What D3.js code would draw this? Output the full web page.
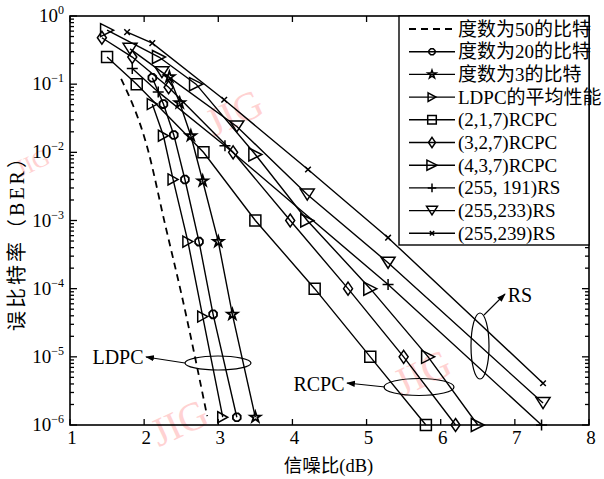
<!DOCTYPE html>
<html lang="zh">
<head>
<meta charset="UTF-8">
<title>BER vs SNR</title>
<script src="https://d3js.org/d3.v7.min.js"></script>
<style>
  body { margin: 0; background: #fff; }
  svg { display: block; }
  text { font-family: "Liberation Serif", "Times New Roman", "Noto Sans CJK SC", serif; fill: #000; }
  .wm { fill: #ff8080; opacity: 0.35; font-size: 40px; }
</style>
</head>
<body>
<svg id="chart" width="604" height="479"></svg>
<script>
// ---- data: [SNR dB, BER] ----
const deg50 = [[1.69, 0.12], [2.05, 0.011], [2.28, 9e-4], [2.51, 7.7e-5], [2.85, 1.35e-6]];
const deg20 = [[2.11, 0.124], [2.26, 0.051], [2.40, 0.018], [2.55, 0.004], [2.74, 4.9e-4], [2.93, 4.2e-5], [3.25, 1.3e-6]];
const deg3 = [[2.34, 0.128], [2.48, 0.053], [2.63, 0.0175], [2.79, 0.0038], [3.0, 4.9e-4], [3.19, 4.2e-5], [3.5, 1.3e-6]];
const ldpcAvg = [[2.11, 0.051], [2.26, 0.0175], [2.39, 0.004], [2.59, 4.9e-4], [2.79, 3.9e-5], [3.06, 1.3e-6]];
const rcpc217 = [[1.5, 0.25], [1.9, 0.1], [2.8, 0.01], [3.5, 1e-3], [4.3, 1e-4], [5.05, 1e-5], [5.8, 1e-6]];
const rcpc327 = [[1.43, 0.48], [1.84, 0.25], [2.33, 0.09], [3.2, 0.01], [3.97, 1e-3], [4.75, 1e-4], [5.5, 1e-5], [6.2, 1e-6]];
const rcpc437 = [[1.5, 0.62], [2.2, 0.25], [2.7, 0.1], [3.5, 0.0093], [4.2, 1e-3], [5.05, 1e-4], [5.83, 1e-5], [6.5, 1e-6]];
const rs191 = [[1.84, 0.17], [2.19, 0.077], [3.09, 0.0125], [5.29, 1.15e-4], [7.36, 1e-6]];
const rs233 = [[1.81, 0.33], [2.24, 0.15], [3.25, 0.024], [4.2, 2.4e-3], [5.29, 2.4e-4], [7.38, 2.1e-6]];
const rs239 = [[1.77, 0.58], [2.11, 0.4], [3.08, 0.059], [4.21, 5.6e-3], [5.29, 5.6e-4], [7.38, 4.1e-6]];

const legendLabels = ["度数为50的比特", "度数为20的比特", "度数为3的比特", "LDPC的平均性能",
  "(2,1,7)RCPC", "(3,2,7)RCPC", "(4,3,7)RCPC", "(255, 191)RS", "(255,233)RS", "(255,239)RS"];
const xTicks = [1, 2, 3, 4, 5, 6, 7, 8];
const yExponents = [0, -1, -2, -3, -4, -5, -6];

const svg = d3.select("#chart");
const L = 70, R = 589, T = 16, B = 425;

const x = d3.scaleLinear().domain([1, 8]).range([L, R]);
const y = d3.scaleLog().domain([1e-6, 1]).range([B, T]);

// watermarks (behind everything)
const wm = svg.append("g");
[[240, 125, 40], [185, 435, 40], [428, 385, 40], [458, 62, 32], [36, 170, 24]].forEach(d => {
  wm.append("text").attr("class", "wm")
    .attr("transform", `translate(${d[0]},${d[1]}) rotate(-25)`)
    .attr("text-anchor", "middle")
    .style("font-size", d[2] + "px")
    .text("JIG");
});

// marker shapes
function markerPath(type, s) {
  s = s || 1;
  switch (type) {
    case "square": { const h = 5.5 * s; return `M${-h},${-h}H${h}V${h}H${-h}Z`; }
    case "diamond": { const w = 4.5 * s, h = 6.5 * s; return `M0,${-h}L${w},0L0,${h}L${-w},0Z`; }
    case "triR": { const w = 6.5 * s, h = 6.5 * s; return `M${-w},${-h}L${w},0L${-w},${h}Z`; }
    case "triRs": { const w = 5 * s, h = 5.5 * s; return `M${-w},${-h}L${w},0L${-w},${h}Z`; }
    case "triD": { const w = 7 * s, h = 5.5 * s; return `M${-w},${-h}H${w}L0,${h}Z`; }
    case "plus": { const h = 5.5 * s; return `M${-h},0H${h}M0,${-h}V${h}`; }
    case "cross": { const h = 2.8 * s; return `M${-h},${-h}L${h},${h}M${-h},${h}L${h},${-h}`; }
    case "oct": {
      const r = 4.2 * s;
      return d3.range(8).map(i => {
        const a = Math.PI / 8 + i * Math.PI / 4;
        return (i ? "L" : "M") + (r * Math.cos(a)).toFixed(2) + "," + (r * Math.sin(a)).toFixed(2);
      }).join("") + "Z";
    }
    case "star": return d3.symbol(d3.symbolStar, 34 * s * s)();
  }
  return "";
}

const series = [
  { data: deg50, marker: null, dash: "7,5" },
  { data: deg20, marker: "oct" },
  { data: deg3, marker: "star" },
  { data: ldpcAvg, marker: "triRs" },
  { data: rcpc217, marker: "square" },
  { data: rcpc327, marker: "diamond" },
  { data: rcpc437, marker: "triR" },
  { data: rs191, marker: "plus" },
  { data: rs233, marker: "triD" },
  { data: rs239, marker: "cross" }
];

const line = d3.line().x(d => x(d[0])).y(d => y(d[1]));
const plot = svg.append("g");

series.forEach(s => {
  plot.append("path")
    .attr("d", s.dash ? line.curve(d3.curveMonotoneX)(s.data) : line.curve(d3.curveLinear)(s.data))
    .attr("fill", "none")
    .attr("stroke", "#000")
    .attr("stroke-width", s.dash ? 1.8 : 1.4)
    .attr("stroke-dasharray", s.dash || null);
  if (s.marker) {
    plot.selectAll(null).data(s.data).enter().append("path")
      .attr("transform", d => `translate(${x(d[0])},${y(d[1])})`)
      .attr("d", markerPath(s.marker))
      .attr("fill", "none")
      .attr("stroke", "#000")
      .attr("stroke-width", s.marker === "star" || s.marker === "oct" ? 1.8 : 1.5);
  }
});

// frame
svg.append("rect").attr("x", L).attr("y", T).attr("width", R - L).attr("height", B - T)
  .attr("fill", "none").attr("stroke", "#000").attr("stroke-width", 1.6);

// x ticks (bottom and top, pointing inward)
const axes = svg.append("g").attr("stroke", "#000").attr("stroke-width", 1.3);
xTicks.forEach(v => {
  axes.append("line").attr("x1", x(v)).attr("x2", x(v)).attr("y1", B).attr("y2", B - 6);
  axes.append("line").attr("x1", x(v)).attr("x2", x(v)).attr("y1", T).attr("y2", T + 6);
  svg.append("text").attr("x", x(v) + 2).attr("y", B + 19)
    .attr("text-anchor", "middle").style("font-size", "19px").text(v);
});

// y ticks, major + minor, on both sides
yExponents.forEach(e => {
  const v = Math.pow(10, e);
  [[L, 1], [R, -1]].forEach(([x0, dir]) => {
    axes.append("line").attr("x1", x0).attr("x2", x0 + dir * 7).attr("y1", y(v)).attr("y2", y(v));
  });
  const lab = svg.append("text").attr("x", 64).attr("y", y(v) + 6)
    .attr("text-anchor", "end").style("font-size", "19px");
  lab.append("tspan").text("10");
  lab.append("tspan").attr("dy", -8).style("font-size", "12px").text(e === 0 ? "0" : "\u2212" + (-e));
  if (e > -6) {
    d3.range(2, 10).forEach(k => {
      const m = k * Math.pow(10, e - 1);
      [[L, 1], [R, -1]].forEach(([x0, dir]) => {
        axes.append("line").attr("x1", x0).attr("x2", x0 + dir * 4).attr("y1", y(m)).attr("y2", y(m));
      });
    });
  }
});

// axis titles
svg.append("text").attr("x", (L + R) / 2 - 1).attr("y", 472)
  .attr("text-anchor", "middle").style("font-size", "18.5px").text("信噪比(dB)");
svg.append("text").attr("transform", "translate(24,238) rotate(-90)")
  .attr("text-anchor", "middle").style("font-size", "20px").style("letter-spacing", "3px")
  .text("误比特率（BER）");

// legend
const lg = svg.append("g");
lg.append("rect").attr("x", 399).attr("y", T).attr("width", R - 399).attr("height", 245 - T)
  .attr("fill", "#fff").attr("stroke", "#000").attr("stroke-width", 1.4);
legendLabels.forEach((name, i) => {
  const cy = 29 + i * 22.7;
  const s = series[i];
  lg.append("line").attr("x1", 409).attr("x2", 455).attr("y1", cy).attr("y2", cy)
    .attr("stroke", "#000").attr("stroke-width", s.dash ? 1.8 : 1.4)
    .attr("stroke-dasharray", s.dash ? "7,5" : null);
  if (s.marker) {
    lg.append("path").attr("transform", `translate(432,${cy})`)
      .attr("d", markerPath(s.marker, 0.78))
      .attr("fill", "none").attr("stroke", "#000").attr("stroke-width", 1.5);
  }
  lg.append("text").attr("x", 458).attr("y", cy + 6.5).style("font-size", "19px").text(name);
});

// annotations: ellipses with arrows
svg.append("defs").append("marker").attr("id", "arr")
  .attr("viewBox", "0 0 10 10").attr("refX", 9).attr("refY", 5)
  .attr("markerWidth", 8).attr("markerHeight", 8).attr("orient", "auto-start-reverse")
  .append("path").attr("d", "M0,1.5L10,5L0,8.5Z").attr("fill", "#000");

const notes = [
  { cx: 218, cy: 363, rx: 33, ry: 7, from: [185, 363], to: [146, 357], label: "LDPC", lx: 118, ly: 364 },
  { cx: 419, cy: 387, rx: 35, ry: 8.5, from: [385, 387], to: [347, 383], label: "RCPC", lx: 319, ly: 391 },
  { cx: 480, cy: 346, rx: 9, ry: 33, from: [484, 315], to: [505, 294], label: "RS", lx: 520, ly: 302 }
];
notes.forEach(n => {
  svg.append("ellipse").attr("cx", n.cx).attr("cy", n.cy).attr("rx", n.rx).attr("ry", n.ry)
    .attr("fill", "none").attr("stroke", "#000").attr("stroke-width", 1.2);
  svg.append("line").attr("x1", n.from[0]).attr("y1", n.from[1]).attr("x2", n.to[0]).attr("y2", n.to[1])
    .attr("stroke", "#000").attr("stroke-width", 1.1).attr("marker-end", "url(#arr)");
  svg.append("text").attr("x", n.lx).attr("y", n.ly).attr("text-anchor", "middle")
    .style("font-size", "20px").text(n.label);
});
</script>
</body>
</html>
